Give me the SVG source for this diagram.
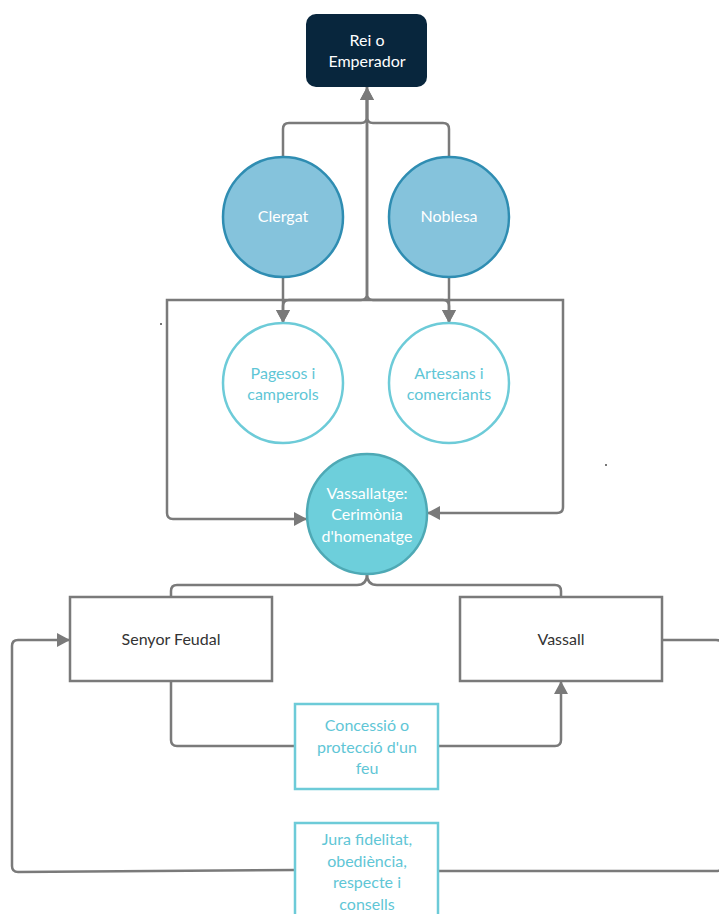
<svg xmlns="http://www.w3.org/2000/svg" width="719" height="914" viewBox="0 0 719 914">
<defs>
<marker id="ah" viewBox="0 0 13 14" refX="13" refY="7" markerWidth="13" markerHeight="14" markerUnits="userSpaceOnUse" orient="auto">
<path d="M0,0 L13,7 L0,14 z" fill="#7a7a7a"/>
</marker>
</defs>
<style>
text{font-family:Lato,"Open Sans","Liberation Sans",sans-serif;font-size:16px;text-anchor:middle}
.c{fill:none;stroke:#7a7a7a;stroke-width:2.5}
.a{marker-end:url(#ah)}
.w{fill:#ffffff}
.t{fill:#5fc6d6}
.d{fill:#333333}
.blue{fill:#85c3dc;stroke:#2f8db2;stroke-width:2.5}
.open{fill:#ffffff;stroke:#6dcbd8;stroke-width:2.5}
.box{fill:#ffffff;stroke:#7a7a7a;stroke-width:2.5}
.tbox{fill:#ffffff;stroke:#6dcbd8;stroke-width:2.5}
</style>
<rect width="719" height="914" fill="#ffffff"/>
<g id="connectors">
<path class="c a" d="M283,157 V129 Q283,123 289,123 H361 Q367,123 367,117 V87"/>
<path class="c a" d="M449,157 V129 Q449,123 443,123 H373 Q367,123 367,117 V87"/>
<path class="c a" d="M367,98 V294 Q367,300 361,300 H289 Q283,300 283,306 V323"/>
<path class="c a" d="M367,98 V294 Q367,300 373,300 H443 Q449,300 449,306 V323"/>
<path class="c a" d="M283,277 V323"/>
<path class="c a" d="M449,277 V323"/>
<path class="c a" d="M367,300 H167 V513 Q167,519 173,519 H307"/>
<path class="c a" d="M367,300 H563 V507 Q563,513 557,513 H427"/>
<path class="c" d="M367,574 Q367,585 357,585 H177 Q171,585 171,591 V597"/>
<path class="c" d="M367,574 Q367,585 377,585 H555 Q561,585 561,591 V597"/>
<path class="c" d="M171,681 V740 Q171,746 177,746 H295"/>
<path class="c a" d="M438,746 H555 Q561,746 561,740 V681"/>
<path class="c a" d="M295,870 L18,872 Q12,872 12,866 V646 Q12,640 18,640 H70"/>
<path class="c" d="M662,640 H716 Q723,640 723,647 V864 Q723,871 716,871 H438"/>
<rect x="160" y="323" width="2" height="2" fill="#777"/>
<rect x="605" y="464" width="2" height="2" fill="#777"/>
</g>
<g id="rei">
<rect x="306" y="14" width="121" height="73" rx="10" fill="#08263d"/>
<text class="w" x="367" y="46">Rei o</text>
<text class="w" x="367" y="67">Emperador</text>
</g>
<g id="clergat">
<circle class="blue" cx="283" cy="217" r="60"/>
<text class="w" x="283" y="222">Clergat</text>
</g>
<g id="noblesa">
<circle class="blue" cx="449" cy="217" r="60"/>
<text class="w" x="449" y="222">Noblesa</text>
</g>
<g id="pagesos">
<circle class="open" cx="283" cy="383" r="60"/>
<text class="t" x="283" y="379">Pagesos i</text>
<text class="t" x="283" y="400">camperols</text>
</g>
<g id="artesans">
<circle class="open" cx="449" cy="383" r="60"/>
<text class="t" x="449" y="379">Artesans i</text>
<text class="t" x="449" y="400">comerciants</text>
</g>
<g id="vassallatge">
<circle cx="367" cy="514" r="60" fill="#6dcfdb" stroke="#4ea9b5" stroke-width="2.5"/>
<text class="w" x="367" y="499">Vassallatge:</text>
<text class="w" x="367" y="520">Cerimònia</text>
<text class="w" x="367" y="542">d'homenatge</text>
</g>
<g id="senyor">
<rect class="box" x="70" y="597" width="202" height="84"/>
<text class="d" x="171" y="645">Senyor Feudal</text>
</g>
<g id="vassall">
<rect class="box" x="460" y="597" width="202" height="84"/>
<text class="d" x="561" y="645">Vassall</text>
</g>
<g id="concessio">
<rect class="tbox" x="295" y="704" width="143" height="85"/>
<text class="t" x="367" y="731">Concessió o</text>
<text class="t" x="367" y="753">protecció d'un</text>
<text class="t" x="367" y="774">feu</text>
</g>
<g id="jura">
<rect class="tbox" x="295" y="823" width="143" height="100"/>
<text class="t" x="367" y="845">Jura fidelitat,</text>
<text class="t" x="367" y="867">obediència,</text>
<text class="t" x="367" y="888">respecte i</text>
<text class="t" x="367" y="910">consells</text>
</g>
</svg>
